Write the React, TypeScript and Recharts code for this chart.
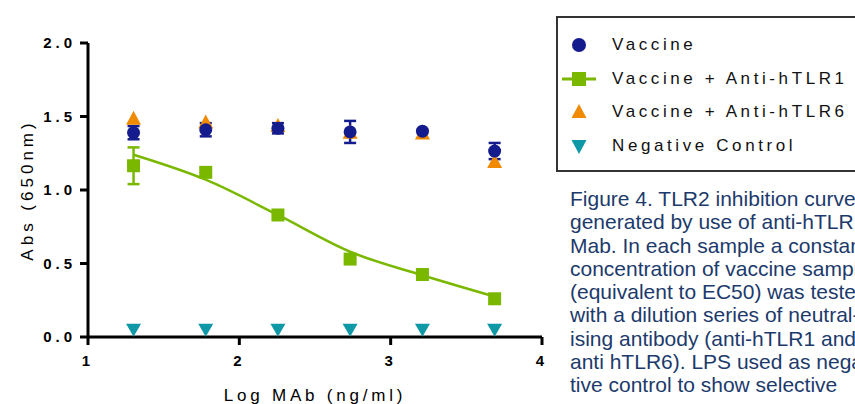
import React from 'react';
import { ComposedChart, Line, Scatter, XAxis, YAxis, ErrorBar } from 'recharts';

// log10 of antibody concentration (ng/ml)
const logMab = [1.301, 1.778, 2.255, 2.732, 3.21, 3.687];

const vaccine = [1.39, 1.41, 1.42, 1.395, 1.4, 1.265];
const vaccineErr = [0.045, 0.045, 0.035, 0.075, 0, 0.055];

const antiTlr1 = [1.165, 1.12, 0.83, 0.53, 0.425, 0.26];
const antiTlr1Err = [0.125, 0, 0, 0.025, 0, 0];
const antiTlr1Fit = [1.24, 1.07, 0.83, 0.58, 0.42, 0.275];

const antiTlr6 = [1.485, 1.46, 1.435, 1.39, 1.385, 1.19];
const negative = [0.05, 0.05, 0.05, 0.05, 0.05, 0.05];

const xTicks = [1, 2, 3, 4];
const yTicks = [0, 0.5, 1, 1.5, 2];

const captionLines = [
  'Figure 4. TLR2 inhibition curves',
  'generated by use of anti-hTLR1',
  'Mab. In each sample a constant',
  'concentration of vaccine sample',
  '(equivalent to EC50) was tested',
  'with a dilution series of neutral-',
  'ising antibody (anti-hTLR1 and',
  'anti hTLR6). LPS used as nega-',
  'tive control to show selective',
];

const NAVY = '#141b8c';
const GREEN = '#7ab800';
const ORANGE = '#f08a00';
const TEAL = '#0f99a6';

const rows = (ys: number[], errs?: number[]) =>
  logMab.map((x, i) => ({ x, y: ys[i], err: errs ? errs[i] : 0 }));

const Circle = (p: any) => <circle cx={p.cx} cy={p.cy} r={6.5} fill={NAVY} />;
const Square = (p: any) => <rect x={p.cx - 6.5} y={p.cy - 6.5} width={13} height={13} fill={GREEN} />;
const UpTri = (p: any) => (
  <path d={`M${p.cx},${p.cy - 8}L${p.cx + 7.5},${p.cy + 6}L${p.cx - 7.5},${p.cy + 6}Z`} fill={ORANGE} />
);
const DownTri = (p: any) => (
  <path d={`M${p.cx - 7.5},${p.cy - 6}L${p.cx + 7.5},${p.cy - 6}L${p.cx},${p.cy + 7}Z`} fill={TEAL} />
);

const legendItems = [
  { name: 'Vaccine', icon: <circle cx={20} cy={10} r={7} fill={NAVY} /> },
  {
    name: 'Vaccine + Anti-hTLR1',
    icon: (
      <g>
        <line x1={3} y1={10} x2={37} y2={10} stroke={GREEN} strokeWidth={3} />
        <rect x={13} y={3} width={14} height={14} fill={GREEN} />
      </g>
    ),
  },
  { name: 'Vaccine + Anti-hTLR6', icon: <path d="M20,2L27.5,16L12.5,16Z" fill={ORANGE} /> },
  { name: 'Negative Control', icon: <path d="M12.5,4L27.5,4L20,18Z" fill={TEAL} /> },
];

const tickStyle = {
  fontSize: 15,
  fontWeight: 'bold',
  fill: '#000',
  letterSpacing: 4,
  fontFamily: '"Liberation Sans", Arial, sans-serif',
};

export default function App() {
  return (
    <div
      style={{
        position: 'fixed',
        left: 0,
        top: 0,
        width: 855,
        height: 404,
        overflow: 'hidden',
        background: '#fff',
        fontFamily: '"Liberation Sans", Arial, sans-serif',
      }}
    >
      <ComposedChart width={855} height={404} margin={{ top: 43, right: 313, bottom: 0, left: 0 }}>
        <XAxis
          type="number"
          dataKey="x"
          domain={[1, 4]}
          ticks={xTicks}
          allowDataOverflow
          axisLine={{ stroke: '#000', strokeWidth: 3 }}
          tickLine={{ stroke: '#000', strokeWidth: 3 }}
          tickSize={8}
          tickMargin={10}
          tick={tickStyle}
          height={67}
          label={{
            value: 'Log MAb (ng/ml)',
            position: 'insideBottom',
            offset: 3,
            style: { fontSize: 17, letterSpacing: 3.8, fill: '#000' },
          }}
        />
        <YAxis
          type="number"
          domain={[0, 2]}
          ticks={yTicks}
          tickFormatter={(v: number) => v.toFixed(1)}
          axisLine={{ stroke: '#000', strokeWidth: 3 }}
          tickLine={{ stroke: '#000', strokeWidth: 3 }}
          tickSize={8}
          tickMargin={4}
          tick={tickStyle}
          width={88}
          label={{
            value: 'Abs (650nm)',
            angle: -90,
            position: 'insideLeft',
            offset: 27,
            style: { textAnchor: 'middle', fontSize: 17, letterSpacing: 4, fill: '#000' },
          }}
        />
        <Scatter data={rows(antiTlr6)} dataKey="y" shape={UpTri} isAnimationActive={false} />
        <Scatter data={rows(vaccine, vaccineErr)} dataKey="y" shape={Circle} isAnimationActive={false}>
          <ErrorBar dataKey="err" direction="y" width={6} stroke={NAVY} strokeWidth={2.5} />
        </Scatter>
        <Line
          data={rows(antiTlr1Fit)}
          dataKey="y"
          type="monotone"
          stroke={GREEN}
          strokeWidth={2.5}
          dot={false}
          activeDot={false}
          isAnimationActive={false}
        />
        <Scatter data={rows(antiTlr1, antiTlr1Err)} dataKey="y" shape={Square} isAnimationActive={false}>
          <ErrorBar dataKey="err" direction="y" width={6} stroke={GREEN} strokeWidth={2.5} />
        </Scatter>
        <Scatter data={rows(negative)} dataKey="y" shape={DownTri} isAnimationActive={false} />
      </ComposedChart>

      <div
        style={{
          position: 'absolute',
          left: 556,
          top: 16,
          width: 330,
          height: 152,
          border: '2px solid #333',
          boxSizing: 'content-box',
        }}
      >
        {legendItems.map((item, i) => (
          <div
            key={item.name}
            style={{
              position: 'absolute',
              left: 0,
              top: 15 + i * 33.6,
              height: 24,
              display: 'flex',
              alignItems: 'center',
              whiteSpace: 'nowrap',
            }}
          >
            <svg width={40} height={20} style={{ marginLeft: 1 }}>
              {item.icon}
            </svg>
            <span style={{ marginLeft: 13, fontSize: 17, letterSpacing: 3.6, color: '#111' }}>{item.name}</span>
          </div>
        ))}
      </div>

      <div
        style={{
          position: 'absolute',
          left: 570,
          top: 187,
          fontSize: 21,
          lineHeight: '23.3px',
          color: '#1c3a6b',
          whiteSpace: 'nowrap',
        }}
      >
        {captionLines.map((l) => (
          <div key={l}>{l}</div>
        ))}
      </div>
    </div>
  );
}
